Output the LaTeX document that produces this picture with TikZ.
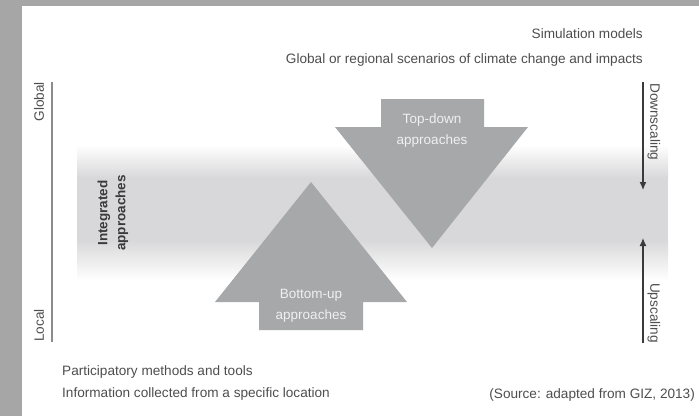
\documentclass[tikz,border=0pt]{standalone}
\usepackage{fontspec}
\setmainfont{Liberation Sans}
\usetikzlibrary{arrows.meta}
\definecolor{framegray}{RGB}{166,166,166}
\definecolor{bandgray}{RGB}{216,216,218}
\definecolor{arrowgray}{RGB}{167,168,170}
\definecolor{txtgray}{RGB}{78,78,78}
\definecolor{darktxt}{RGB}{58,58,58}
\definecolor{axisgray}{RGB}{140,140,140}
\tikzset{
  lbl/.style={font=\fontsize{13.6}{16}\selectfont,text=txtgray,inner sep=0pt},
  inlbl/.style={font=\fontsize{13.5}{21}\selectfont,text=white!94!black,inner sep=0pt,align=center},
  bigarrow/.style={fill=arrowgray},
  axisline/.style={draw=axisgray,line width=1.5pt},
  scalearrow/.style={draw=darktxt,line width=1.2pt,-{Latex[length=8pt,width=7pt]}}
}
\begin{document}
\begin{tikzpicture}[x=1pt,y=-1pt]
      \useasboundingbox (0,0) rectangle (699,416);
      \fill[framegray] (0,0) rectangle (699,416);
      \fill[white] (22,6) rectangle (699,416);
      % band
      \shade[top color=white,bottom color=bandgray] (77,145) rectangle (668,178);
      \fill[bandgray] (77,177.5) rectangle (668,240.5);
      \shade[top color=bandgray,bottom color=white] (77,240) rectangle (668,280);
      % arrows
      \fill[bigarrow] (381,99) -- (484,99) -- (484,127) -- (528,127) -- (432,248) -- (335,127) -- (381,127) -- cycle;
      \fill[bigarrow] (259,330) -- (363,330) -- (363,302) -- (407,302) -- (311,182) -- (215,302) -- (259,302) -- cycle;
      \node[inlbl] (topdown) at (432,131) {Top-down\\approaches};
      \node[inlbl] (bottomup) at (311,306) {Bottom-up\\approaches};
      % left axis
      \coordinate (gtop) at (52,82);
      \coordinate (lbot) at (52,342);
      \draw[axisline] (gtop) -- (lbot);
      \node[lbl,rotate=90,anchor=east] (global) at (39,82) {Global};
      \node[lbl,rotate=90,anchor=west] (local) at (39,342) {Local};
      \node[lbl,rotate=90,align=center,text=darktxt,font=\fontsize{13.5}{18}\selectfont\bfseries] (integrated) at (113,213) {Integrated\\approaches};
      % right axis
      \coordinate (dtop) at (643,82);
      \coordinate (dbot) at (643,190);
      \coordinate (utop) at (643,238);
      \coordinate (ubot) at (643,343);
      \draw[scalearrow] (dtop) -- (dbot);
      \draw[scalearrow] (ubot) -- (utop);
      \node[lbl,rotate=-90,anchor=west] (downscaling) at (654,83) {Downscaling};
      \node[lbl,rotate=-90,anchor=east] (upscaling) at (654,343) {Upscaling};
      % texts
      \node[lbl,anchor=base east] (simmodels) at (643,38) {Simulation models};
      \node[lbl,anchor=base east] (scenarios) at (643,63) {Global or regional scenarios of climate change and impacts};
      \node[lbl,anchor=base west] (partic) at (62,375) {Participatory methods and tools};
      \node[lbl,anchor=base west] (info) at (62,397) {Information collected from a specific location};
      \node[lbl,anchor=base east] (source) at (695,398) {(Source: adapted from GIZ, 2013)};
\end{tikzpicture}
\end{document}
